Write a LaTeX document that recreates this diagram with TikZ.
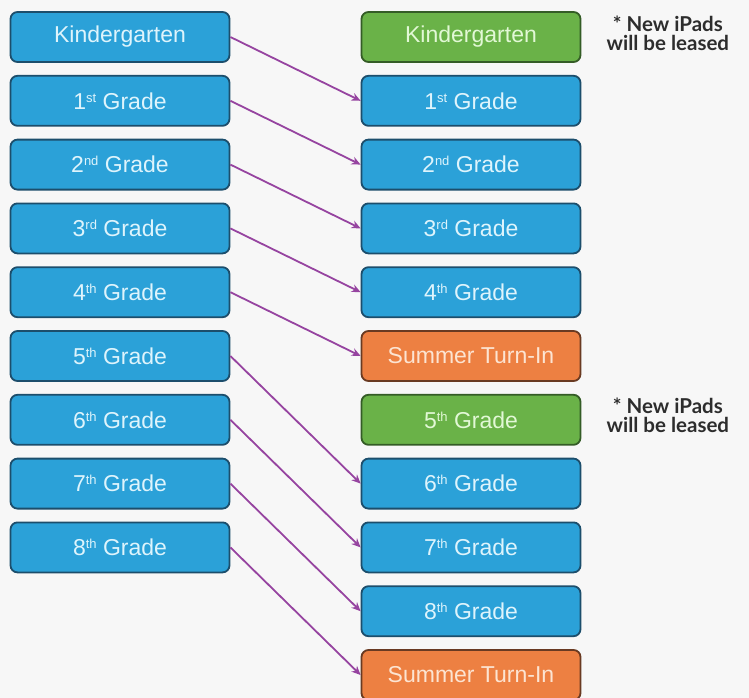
\documentclass[tikz,border=0pt]{standalone}
\usepackage{fontspec}
\setmainfont{Liberation Sans}
\newfontfamily\notefont{Lato}
\usetikzlibrary{arrows.meta, positioning}
\definecolor{gradecolor}{RGB}{43,161,216}
\definecolor{gradeborder}{RGB}{28,78,108}
\definecolor{gradetext}{RGB}{222,244,252}
\definecolor{leasecolor}{RGB}{106,178,72}
\definecolor{leaseborder}{RGB}{52,92,38}
\definecolor{leasetext}{RGB}{226,248,214}
\definecolor{turnincolor}{RGB}{237,128,66}
\definecolor{turninborder}{RGB}{105,58,34}
\definecolor{turnintext}{RGB}{252,228,210}
\definecolor{movecolor}{RGB}{150,68,160}
\definecolor{notecolor}{RGB}{45,45,45}
\newcommand{\ordsfx}[1]{\raisebox{7pt}{\fontsize{13}{13}\selectfont #1}}

\begin{document}
\begin{tikzpicture}[
    x=1pt, y=-1pt,
    node distance=12pt,
    >={Stealth[length=9pt, width=8pt]},
    yearbox/.style={rectangle, draw=#1border, fill=#1color, text=#1text,
        line width=1.8pt, rounded corners=7pt,
        minimum width=219pt, minimum height=50pt, inner sep=0pt,
        font=\fontsize{23}{26}\selectfont},
    note/.style={align=center, inner sep=0pt, text=notecolor,
        font=\notefont\bfseries\fontsize{20.5}{19}\selectfont},
    move/.style={->, line width=1.8pt, movecolor},
]

% === BACKGROUND ===
\fill[black!3] (0,0) rectangle (749,698);
\useasboundingbox (0,0) rectangle (749,698);

% === CURRENT YEAR (Left) ===
\node[yearbox=grade] (l0) at (120,37) {Kindergarten};
\node[yearbox=grade, below=of l0] (l1) {1\ordsfx{st} Grade};
\node[yearbox=grade, below=of l1] (l2) {2\ordsfx{nd} Grade};
\node[yearbox=grade, below=of l2] (l3) {3\ordsfx{rd} Grade};
\node[yearbox=grade, below=of l3] (l4) {4\ordsfx{th} Grade};
\node[yearbox=grade, below=of l4] (l5) {5\ordsfx{th} Grade};
\node[yearbox=grade, below=of l5] (l6) {6\ordsfx{th} Grade};
\node[yearbox=grade, below=of l6] (l7) {7\ordsfx{th} Grade};
\node[yearbox=grade, below=of l7] (l8) {8\ordsfx{th} Grade};

% === NEXT YEAR (Right) ===
\node[yearbox=lease] (r0) at (471,37) {Kindergarten};
\node[yearbox=grade, below=of r0] (r1) {1\ordsfx{st} Grade};
\node[yearbox=grade, below=of r1] (r2) {2\ordsfx{nd} Grade};
\node[yearbox=grade, below=of r2] (r3) {3\ordsfx{rd} Grade};
\node[yearbox=grade, below=of r3] (r4) {4\ordsfx{th} Grade};
\node[yearbox=turnin, below=of r4] (rt1) {Summer Turn-In};
\node[yearbox=lease, below=of rt1] (r5) {5\ordsfx{th} Grade};
\node[yearbox=grade, below=of r5] (r6) {6\ordsfx{th} Grade};
\node[yearbox=grade, below=of r6] (r7) {7\ordsfx{th} Grade};
\node[yearbox=grade, below=of r7] (r8) {8\ordsfx{th} Grade};
\node[yearbox=turnin, below=of r8] (rt2) {Summer Turn-In};

% Lease notes
\node[note, right=25pt of r0, yshift=4pt] (note0) {* New iPads\\will be leased};
\node[note, right=25pt of r5, yshift=4pt] (note5) {* New iPads\\will be leased};

% === ARROWS ===
\draw[move] (l0.east) -- (r1.west);
\draw[move] (l1.east) -- (r2.west);
\draw[move] (l2.east) -- (r3.west);
\draw[move] (l3.east) -- (r4.west);
\draw[move] (l4.east) -- (rt1.west);
\draw[move] (l5.east) -- (r6.west);
\draw[move] (l6.east) -- (r7.west);
\draw[move] (l7.east) -- (r8.west);
\draw[move] (l8.east) -- (rt2.west);

\end{tikzpicture}
\end{document}
